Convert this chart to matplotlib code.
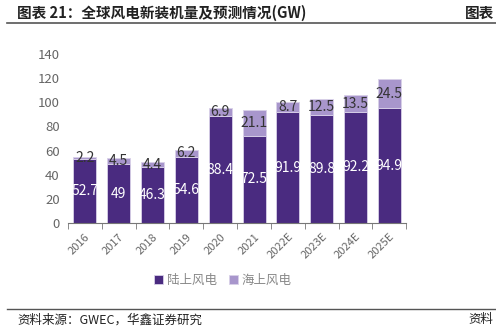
import numpy as np
import matplotlib.pyplot as plt

plt.rcParams['font.family'] = ['Noto Sans CJK SC', 'DejaVu Sans']

# 全球风电新增装机 (GW)
years = ['2016', '2017', '2018', '2019', '2020', '2021',
         '2022E', '2023E', '2024E', '2025E']
onshore = [52.7, 49, 46.3, 54.6, 88.4, 72.5, 91.9, 89.8, 92.2, 94.9]
offshore = [2.2, 4.5, 4.4, 6.2, 6.9, 21.1, 8.7, 12.5, 13.5, 24.5]
series_names = ['陆上风电', '海上风电']

DARK = '#4a2b80'
LIGHT = '#a896cc'

fig = plt.figure(figsize=(4.96, 3.35), dpi=100)
ax = fig.add_axes([0.137, 0.334, 0.682, 0.505])

x = np.arange(len(years))
w = 0.68
b1 = ax.bar(x, onshore, w, color=DARK, edgecolor='#d8d0e8', linewidth=0.6,
            label=series_names[0])
b2 = ax.bar(x, offshore, w, bottom=onshore, color=LIGHT, edgecolor='#d8d0e8',
            linewidth=0.6, label=series_names[1])

for xi, on, off in zip(x, onshore, offshore):
    ax.text(xi, on / 2, f'{on:g}', ha='center', va='center',
            color='white', fontsize=10)
    ax.text(xi, on + off / 2, f'{off:g}', ha='center', va='center',
            color='#333333', fontsize=10)

ax.set_xlim(-0.5, len(years) - 0.5)
ax.set_ylim(0, 140)
ax.set_yticks(range(0, 141, 20))
ax.tick_params(axis='y', length=0, labelsize=9.5, labelcolor='#666666', pad=6)

ax.set_xticks(x)
ax.set_xticklabels(years, rotation=45, ha='right', rotation_mode='anchor',
                   fontsize=8, color='#666666')
ax.tick_params(axis='x', length=0, pad=6)
ax.set_xticks(np.arange(-0.5, len(years)), minor=True)
ax.tick_params(axis='x', which='minor', length=4, color='#777777', direction='out')

for s in ['top', 'right', 'left']:
    ax.spines[s].set_visible(False)
ax.spines['bottom'].set_color('#777777')

fig.legend(handles=[b1, b2], labels=series_names, loc='center',
           bbox_to_anchor=(0.45, 0.164), ncol=2, frameon=False, fontsize=9,
           handlelength=0.7, handleheight=0.7, handletextpad=0.3,
           columnspacing=1.0, labelcolor='#888888')

# 标题与来源
fig.text(0.035, 0.962, '图表 21：全球风电新装机量及预测情况(GW)', fontsize=10.5,
         fontweight='bold', color='#222222', va='center')
fig.text(0.938, 0.962, '图表', fontsize=10.5, fontweight='bold',
         color='#222222', va='center')
fig.add_artist(plt.Line2D([0.014, 1.0], [0.931, 0.931], color='#555555', lw=1.2))
fig.add_artist(plt.Line2D([0.014, 1.0], [0.078, 0.078], color='#555555', lw=1.0))
fig.text(0.035, 0.045, '资料来源：GWEC，华鑫证券研究', fontsize=9,
         color='#222222', va='center')
fig.text(0.945, 0.045, '资料', fontsize=9, color='#222222', va='center')

fig.savefig('out.png', dpi=100)
